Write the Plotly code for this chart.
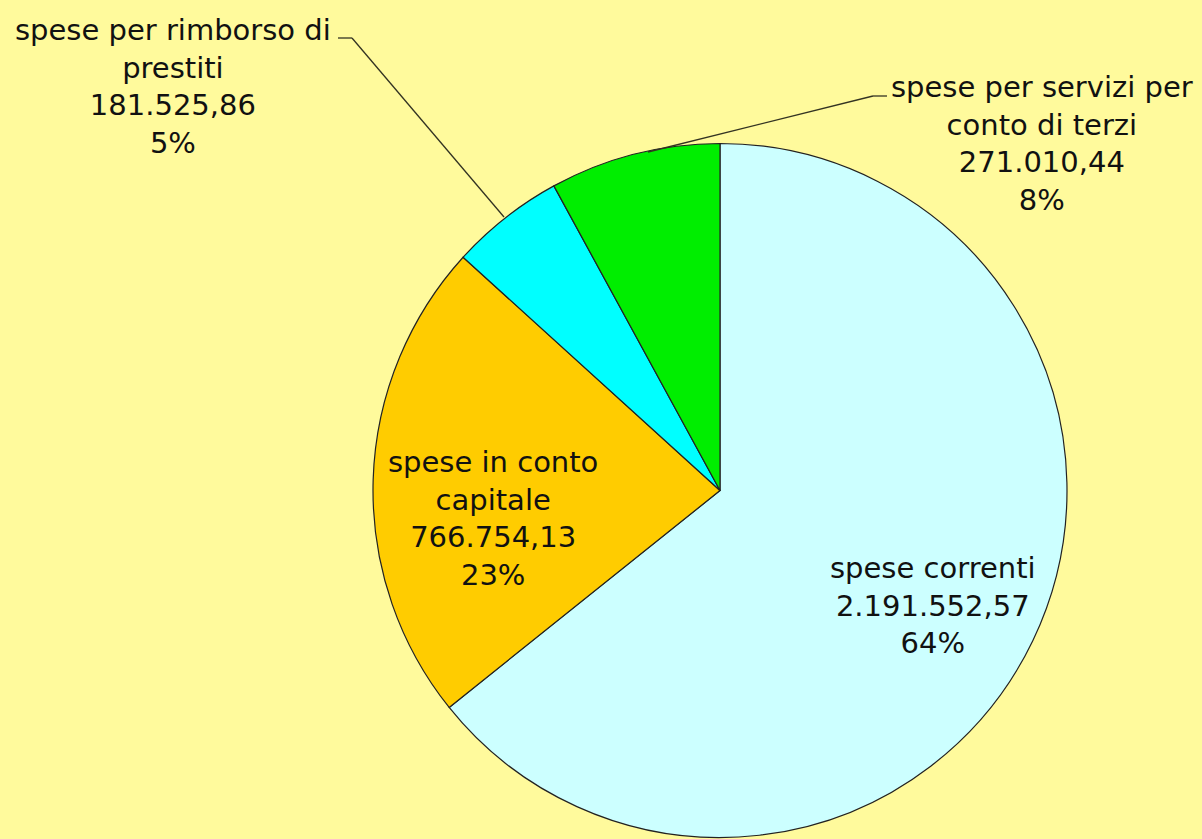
import plotly.graph_objects as go

# ---- data ----
categories = ["spese correnti", "spese in conto capitale",
              "spese per rimborso di prestiti", "spese per servizi per conto di terzi"]
label_lines = ["spese correnti", "spese in conto<br>capitale",
               "spese per rimborso di<br>prestiti", "spese per servizi per<br>conto di terzi"]
values = [2191552.57, 766754.13, 181525.86, 271010.44]
pct_labels = ["64%", "23%", "5%", "8%"]
colors = ["#CCFFFF", "#FFCC00", "#00FFFF", "#00EE00"]

W, H = 1202, 839
BG = "#FFFA9C"

def px_x(x):
    return x / W

def px_y(y):
    return 1 - y / H

def fmt_it(v):
    s = f"{v:,.2f}"
    return s.replace(",", "X").replace(".", ",").replace("X", ".")

# pie geometry (pixels)
cx, cy, R = 720, 490.5, 347

fig = go.Figure(go.Pie(
    labels=categories,
    values=values,
    sort=False,
    direction="clockwise",
    rotation=0,
    marker=dict(colors=colors, line=dict(color="#222222", width=1.2)),
    textinfo="none",
    hoverinfo="label+value+percent",
    showlegend=False,
    domain=dict(x=[px_x(cx - R), px_x(cx + R)], y=[px_y(cy + R), px_y(cy - R)]),
))

# label block centres (pixels)
label_pos = [(933, 605), (493, 518), (173, 86), (1042, 144)]

annotations = []
for i, cat in enumerate(categories):
    text = f"{label_lines[i]}<br>{fmt_it(values[i])}<br>{pct_labels[i]}"
    x, y = label_pos[i]
    annotations.append(dict(
        x=px_x(x), y=px_y(y), xref="paper", yref="paper",
        text=text, showarrow=False, xanchor="center", yanchor="middle",
        align="center", font=dict(family="DejaVu Sans", size=29, color="#111111"),
    ))

# leader lines (pixels)
leaders = [
    [(338, 38), (352, 38), (504, 217)],
    [(887, 96), (873, 96), (648, 152)],
]
shapes = []
for pts in leaders:
    for (x0, y0), (x1, y1) in zip(pts[:-1], pts[1:]):
        shapes.append(dict(type="line", xref="paper", yref="paper",
                           x0=px_x(x0), y0=px_y(y0), x1=px_x(x1), y1=px_y(y1),
                           line=dict(color="#333322", width=1.3)))

fig.update_layout(
    width=W, height=H,
    margin=dict(l=0, r=0, t=0, b=0),
    paper_bgcolor=BG, plot_bgcolor=BG,
    annotations=annotations,
    shapes=shapes,
)

fig.write_html(
    "out.html",
    config={"displayModeBar": False},
    post_script="document.body.style.margin='0';document.body.style.overflow='hidden';"
                "document.body.style.background='" + BG + "';",
)
